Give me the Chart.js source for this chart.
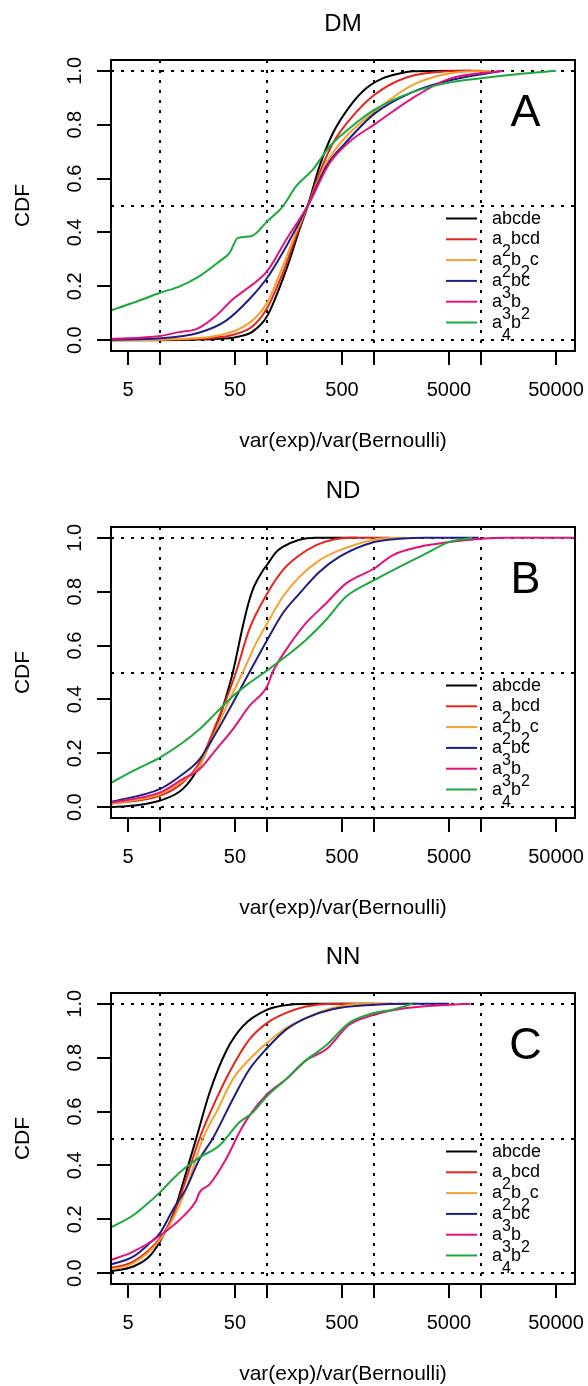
<!DOCTYPE html>
<html>
<head>
<meta charset="utf-8">
<title>CDF of variance ratios</title>
<script src="https://cdn.jsdelivr.net/npm/chart.js@4.4.1/dist/chart.umd.min.js"></script>
<style>
  body { margin: 0; background: #fff; }
  #wrap { position: relative; width: 588px; height: 1386px; }
  #wrap canvas { position: absolute; left: 0; }
</style>
</head>
<body>
<div id="wrap">
  <canvas id="chartDM" width="588" height="453" style="top:0px"></canvas>
  <canvas id="chartND" width="588" height="453" style="top:467px"></canvas>
  <canvas id="chartNN" width="588" height="453" style="top:933px"></canvas>
</div>
<script>
// ---- series: [var ratio, CDF] ----
const dmAbcde = [[3.3,0],[20,0.002],[40,0.006],[55,0.014],[73,0.032],[100,0.09],[151,0.263],[200,0.41],[240,0.5],[308,0.645],[411,0.768],[589,0.867],[842,0.935],[1200,0.972],[1730,0.99],[2300,0.998],[8000,1]];
const dmA2bcd = [[3.3,0],[15,0.003],[30,0.008],[48,0.02],[73,0.052],[100,0.12],[140,0.25],[186,0.386],[240,0.5],[308,0.62],[411,0.731],[589,0.818],[1000,0.91],[2000,0.975],[5000,0.998],[10000,1]];
const dmA2b2c = [[3.3,0],[10,0.002],[20,0.007],[33,0.016],[55,0.042],[79,0.086],[100,0.14],[140,0.275],[186,0.4],[240,0.5],[356,0.657],[547,0.756],[1000,0.848],[2250,0.946],[5000,0.99],[12000,1]];
const dmA3bc = [[3.3,0.002],[10,0.007],[23,0.028],[41,0.072],[68,0.152],[100,0.232],[151,0.349],[240,0.5],[356,0.645],[547,0.735],[1000,0.84],[2250,0.92],[5000,0.964],[16000,1]];
const dmA3b2 = [[3.3,0.004],[10,0.016],[15,0.03],[22,0.042],[33,0.09],[47.7,0.152],[63.5,0.189],[100,0.256],[151,0.374],[240,0.5],[383,0.657],[589,0.737],[1000,0.8],[2250,0.897],[5000,0.97],[16000,1]];
const dmA4b = [[3.3,0.108],[5.6,0.139],[10,0.176],[15.2,0.2],[23.3,0.238],[35.9,0.293],[44.5,0.324],[53.2,0.38],[70.8,0.386],[100,0.441],[140,0.497],[186,0.571],[267,0.633],[383,0.719],[589,0.787],[1000,0.855],[2250,0.92],[5000,0.956],[10000,0.972],[25000,0.99],[50000,1]];

const ndAbcde = [[3.3,0],[5.6,0.006],[10,0.025],[16.3,0.068],[23.3,0.154],[33.4,0.3],[41.3,0.41],[47.7,0.5],[59,0.67],[66,0.75],[73,0.806],[80,0.84],[90,0.875],[100,0.9],[120,0.945],[140,0.966],[200,0.993],[284,1],[700,1]];
const ndA2bcd = [[3.3,0.012],[10,0.043],[16.3,0.092],[23.3,0.166],[33.4,0.31],[41.3,0.4],[51,0.5],[68,0.66],[100,0.793],[140,0.88],[200,0.935],[284,0.972],[408,0.993],[628,1],[1400,1]];
const ndA2b2c = [[3.3,0.012],[10,0.049],[16.3,0.098],[23.3,0.154],[33.4,0.29],[47.7,0.424],[59,0.5],[78.7,0.609],[100,0.683],[140,0.781],[200,0.855],[307,0.916],[471,0.953],[1000,0.993],[1720,1],[2000,1]];
const ndA3bc = [[3.3,0.018],[10,0.068],[16.3,0.123],[23.3,0.178],[33.4,0.277],[47.7,0.387],[68,0.5],[100,0.621],[140,0.72],[200,0.793],[307,0.873],[471,0.929],[1000,0.984],[1720,0.996],[3000,1],[9500,1]];
const ndA3b2 = [[3.3,0.016],[10,0.055],[16.3,0.105],[23.3,0.141],[33.4,0.215],[47.7,0.289],[68,0.375],[100,0.449],[112,0.5],[150,0.584],[230,0.683],[354,0.756],[544,0.83],[1000,0.886],[1483,0.935],[2630,0.966],[5010,0.984],[10000,0.996],[17000,1],[75000,1]];
const ndA4b = [[3.3,0.086],[5.6,0.135],[10,0.185],[16.3,0.24],[23.3,0.289],[33.4,0.351],[47.7,0.412],[68,0.461],[100,0.508],[150,0.56],[230,0.621],[354,0.695],[544,0.781],[1000,0.843],[1720,0.892],[3030,0.941],[5000,0.984],[8280,1]];

const nnAbcde = [[3.3,0.006],[5.6,0.025],[7.9,0.062],[10,0.12],[13.1,0.215],[17.5,0.375],[21.7,0.5],[28.9,0.67],[41.3,0.824],[59,0.916],[100,0.978],[161,0.996],[284,1],[1000,1]];
const nnA2bcd = [[3.3,0.018],[5.6,0.043],[10,0.13],[13.1,0.21],[17.5,0.35],[23.3,0.5],[33.4,0.646],[47.7,0.769],[68,0.867],[100,0.929],[150,0.966],[230,0.99],[408,1],[1500,1]];
const nnA2b2c = [[3.3,0.012],[5.6,0.037],[10,0.125],[13.1,0.2],[17.5,0.314],[25,0.5],[33.4,0.597],[47.7,0.72],[68,0.793],[100,0.855],[150,0.91],[230,0.947],[408,0.984],[800,1],[2500,1]];
const nnA3bc = [[3.3,0.03],[5.6,0.062],[7.9,0.11],[10,0.15],[13.1,0.235],[17.5,0.315],[23.3,0.424],[31,0.5],[47.7,0.646],[68,0.756],[100,0.836],[150,0.904],[230,0.947],[408,0.98],[1000,0.996],[2000,1],[5000,1]];
const nnA3b2 = [[3.3,0.046],[5.6,0.08],[10,0.14],[16.3,0.21],[21.7,0.27],[23.3,0.3],[28.9,0.33],[41.3,0.424],[55,0.523],[68,0.584],[100,0.665],[150,0.72],[230,0.79],[354,0.83],[585,0.922],[1000,0.959],[1977,0.984],[5010,0.996],[7950,1]];
const nnA4b = [[3.3,0.166],[5.6,0.215],[7.9,0.264],[10,0.301],[13.1,0.35],[17.5,0.394],[23.3,0.43],[35.8,0.474],[55,0.56],[73.3,0.597],[100,0.658],[150,0.72],[230,0.79],[354,0.845],[585,0.929],[1000,0.966],[1480,0.978],[2280,1]];

// legend text: "_n" marks a subscript digit
const seriesLabels = ['abcde', 'a_2bcd', 'a_2b_2c', 'a_3bc', 'a_3b_2', 'a_4b'];
const seriesColors = ['#000000', '#e3261d', '#f5a12c', '#1f1f82', '#e2137c', '#1ca83c'];

const xTicksLabelled = [5, 50, 500, 5000, 50000];
const xTicksPlain = [10, 100, 1000, 10000];
const yTicks = [0, 0.2, 0.4, 0.6, 0.8, 1.0];
const xGuides = [10, 100, 1000, 10000];
const yGuides = [0, 0.5, 1];

const FONT = '"Liberation Sans", Arial, Helvetica, sans-serif';

function drawSubLabel(ctx, label, x, y) {
    let cx = x;
    label.split(/(_\d)/).filter(Boolean).forEach(seg => {
        const sub = seg[0] === '_';
        const txt = sub ? seg.slice(1) : seg;
        ctx.font = (sub ? '16px ' : '18px ') + FONT;
        ctx.fillText(txt, cx, sub ? y + 12 : y);
        cx += ctx.measureText(txt).width;
    });
}

// base-graphics look: box, outside ticks, dotted reference lines, rotated y labels
const rFrame = {
    id: 'rFrame',
    beforeDatasetsDraw(chart) {
        const { ctx, chartArea: a, scales: { x, y } } = chart;
        ctx.save();
        ctx.strokeStyle = '#000';
        ctx.lineWidth = 2;
        ctx.setLineDash([3, 7]);
        xGuides.forEach(v => {
            const px = Math.round(x.getPixelForValue(v));
            ctx.beginPath(); ctx.moveTo(px, a.top); ctx.lineTo(px, a.bottom); ctx.stroke();
        });
        yGuides.forEach(v => {
            const py = Math.round(y.getPixelForValue(v));
            ctx.beginPath(); ctx.moveTo(a.left, py); ctx.lineTo(a.right, py); ctx.stroke();
        });
        ctx.restore();
    },
    afterDraw(chart, args, opts) {
        const { ctx, chartArea: a, scales: { x, y } } = chart;
        const midX = (a.left + a.right) / 2;
        ctx.save();
        ctx.fillStyle = '#000';
        ctx.strokeStyle = '#000';
        ctx.lineWidth = 2;
        ctx.strokeRect(a.left, a.top, a.right - a.left, a.bottom - a.top);

        ctx.beginPath();
        [...xTicksLabelled, ...xTicksPlain].forEach(v => {
            const px = Math.round(x.getPixelForValue(v));
            ctx.moveTo(px, a.bottom); ctx.lineTo(px, a.bottom + 14);
        });
        yTicks.forEach(v => {
            const py = Math.round(y.getPixelForValue(v));
            ctx.moveTo(a.left, py); ctx.lineTo(a.left - 14, py);
        });
        ctx.stroke();

        ctx.textAlign = 'center';
        ctx.textBaseline = 'middle';
        ctx.font = '20px ' + FONT;
        xTicksLabelled.forEach(v => ctx.fillText(String(v), x.getPixelForValue(v), a.bottom + 39));
        yTicks.forEach(v => {
            ctx.save();
            ctx.translate(a.left - 36, y.getPixelForValue(v));
            ctx.rotate(-Math.PI / 2);
            ctx.fillText(v.toFixed(1), 0, 0);
            ctx.restore();
        });

        ctx.font = '21px ' + FONT;
        ctx.fillText('var(exp)/var(Bernoulli)', midX, a.bottom + 90);
        ctx.save();
        ctx.translate(a.left - 88, (a.top + a.bottom) / 2);
        ctx.rotate(-Math.PI / 2);
        ctx.fillText('CDF', 0, 0);
        ctx.restore();

        ctx.font = '24px ' + FONT;
        ctx.fillText(opts.title, midX, a.top - 36);
        ctx.font = '45px ' + FONT;
        ctx.fillText(opts.letter, a.right - 49.5, a.top + 54);

        // legend, no box
        ctx.textAlign = 'left';
        ctx.textBaseline = 'alphabetic';
        seriesLabels.forEach((lab, i) => {
            const ry = a.top + 158.5 + i * 20.8;
            ctx.strokeStyle = seriesColors[i];
            ctx.beginPath(); ctx.moveTo(a.right - 129, ry); ctx.lineTo(a.right - 98, ry); ctx.stroke();
            drawSubLabel(ctx, lab, a.right - 83, ry + 5);
        });
        ctx.restore();
    }
};

const panels = [
    { id: 'chartDM', title: 'DM', letter: 'A', series: [dmAbcde, dmA2bcd, dmA2b2c, dmA3bc, dmA3b2, dmA4b] },
    { id: 'chartND', title: 'ND', letter: 'B', series: [ndAbcde, ndA2bcd, ndA2b2c, ndA3bc, ndA3b2, ndA4b] },
    { id: 'chartNN', title: 'NN', letter: 'C', series: [nnAbcde, nnA2bcd, nnA2b2c, nnA3bc, nnA3b2, nnA4b] }
];

panels.forEach(p => {
    const ctx = document.querySelector('#' + p.id).getContext('2d');
    new Chart(ctx, {
        type: 'line',
        data: {
            datasets: p.series.map((pts, i) => ({
                label: seriesLabels[i],
                data: pts.map(([vx, vy]) => ({ x: vx, y: vy })),
                borderColor: seriesColors[i],
                borderWidth: 2,
                pointRadius: 0,
                fill: false,
                cubicInterpolationMode: 'monotone',
                order: p.series.length - i
            }))
        },
        options: {
            responsive: false,
            animation: false,
            devicePixelRatio: 1,
            layout: { padding: { left: 111, top: 60, right: 13, bottom: 102 } },
            plugins: {
                legend: { display: false },
                tooltip: { enabled: false },
                rFrame: { title: p.title, letter: p.letter }
            },
            scales: {
                x: { type: 'logarithmic', min: Math.pow(10, 0.54), max: Math.pow(10, 4.877), display: false },
                y: { type: 'linear', min: -0.04, max: 1.04, display: false }
            }
        },
        plugins: [rFrame]
    });
});
</script>
</body>
</html>
